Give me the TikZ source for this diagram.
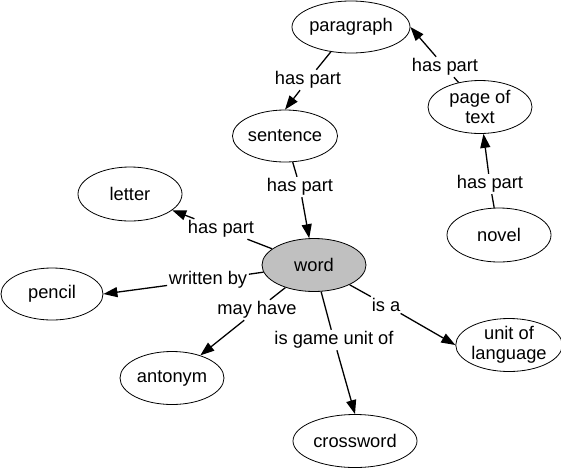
\documentclass[tikz,border=0pt]{standalone}
\usepackage{fontspec}
\setmainfont{Liberation Sans}
\usetikzlibrary{arrows.meta,shapes.geometric}
\definecolor{wordgray}{RGB}{192,192,192}
\begin{document}
\begin{tikzpicture}[x=1pt, y=-1pt,
    every node/.style={font=\fontsize{18.3}{20}\selectfont},
    concept/.style={draw, ellipse, line width=0.8pt, inner sep=0pt, minimum width=104pt, minimum height=53pt, align=center},
    linkword/.style={fill=white, inner sep=1.5pt},
    tie/.style={line width=1.3pt},
    tiearrow/.style={line width=1.3pt, -{Triangle[length=14pt,width=10pt]}}]
    \useasboundingbox (0,0) rectangle (561,469);
    % concepts
    \node (paragraph) [concept, minimum width=118pt, minimum height=52pt] at (351,27) {paragraph};
    \node (pagetext) [concept] at (480,107) {page of\\text};
    \node (sentence) [concept, minimum height=52pt] at (285,136) {sentence};
    \node (novel) [concept, minimum height=54pt] at (499,235) {novel};
    \node (letter) [concept, minimum height=54pt] at (130,194) {letter};
    \node (word) [concept, fill=wordgray] at (314,265) {word};
    \node (pencil) [concept, minimum width=102pt, minimum height=52pt] at (52,294) {pencil};
    \node (antonym) [concept] at (172,378) {antonym};
    \node (crossword) [concept, minimum width=124pt] at (355,441) {crossword};
    \node (unit) [concept] at (509,345) {unit of\\language};
    % linking phrases
    \node (hp1) [linkword] at (308,80) {has part};
    \node (hp2) [linkword] at (445,67) {has part};
    \node (hp3) [linkword] at (300,187) {has part};
    \node (hp4) [linkword] at (490,184) {has part};
    \node (hp5) [linkword] at (221,229) {has part};
    \node (wby) [linkword] at (208,280) {written by};
    \node (mhv) [linkword] at (257,310) {may have};
    \node (gun) [linkword] at (334,340) {is game unit of};
    \node (isa) [linkword] at (386,305) {is a};
    % connections
    \draw[tie] (paragraph) -- (hp1);
    \draw[tiearrow] (hp1) -- (sentence.north);
    \draw[tie] (pagetext) -- (hp2);
    \draw[tiearrow] (hp2) -- (paragraph.east);
    \draw[tie] (sentence) -- (hp3);
    \draw[tiearrow] (hp3) -- (word);
    \draw[tie] (novel) -- (hp4);
    \draw[tiearrow] (hp4) -- (pagetext);
    \draw[tie] (word) -- (hp5);
    \draw[tiearrow] (hp5) -- (letter);
    \draw[tie] (word) -- (wby);
    \draw[tiearrow] (wby) -- (pencil.east);
    \draw[tie] (word) -- (mhv);
    \draw[tiearrow] (mhv) -- (antonym);
    \draw[tie] (word) -- (gun);
    \draw[tiearrow] (gun) -- (crossword.north);
    \draw[tie] (word) -- (isa);
    \draw[tiearrow] (isa) -- (unit.west);
\end{tikzpicture}
\end{document}
